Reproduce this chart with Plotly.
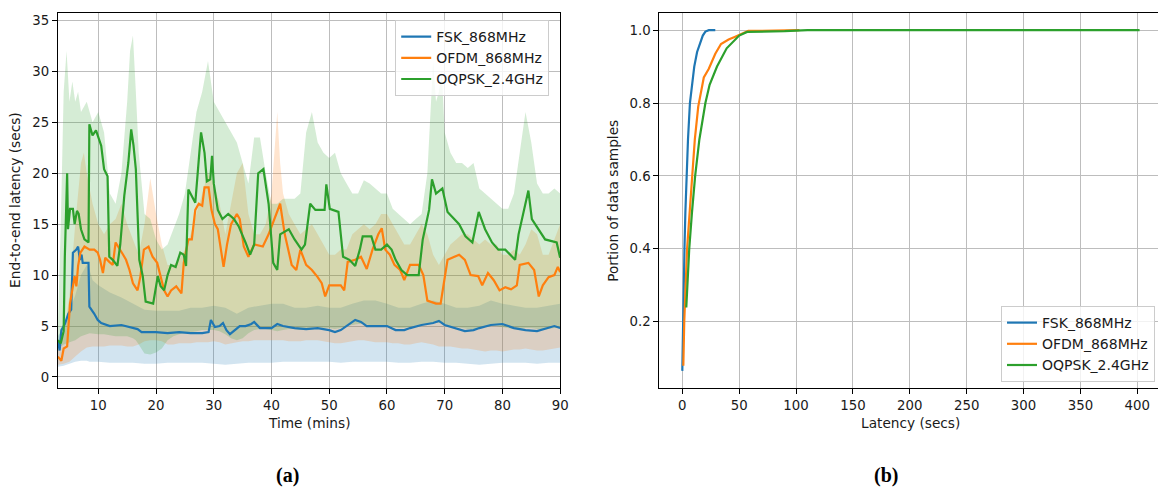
import plotly.graph_objects as go

# ---------------- Panel (a): end-to-end latency over time ----------------
fsk_t = [3, 3.3, 3.6, 4.2, 4.8, 5.3, 5.6, 6.2, 6.5, 6.8, 7.1, 7.3, 8.3, 8.45, 9.3,
         9.9, 10.5, 12, 14, 15.5, 16.8, 17.5, 20, 22, 24, 26, 28, 29.1, 29.5, 30.2,
         31, 31.6, 32.2, 32.8, 33.5, 34.5, 35.5, 36.5, 37, 38, 40, 41, 42, 44, 46,
         48, 50, 51, 52, 53.5, 54.5, 55.5, 56.5, 58, 60, 61.5, 63, 64, 66, 68,
         69, 70, 72, 73.5, 75, 76, 78, 80, 82, 84, 86, 88, 89, 90]
fsk_mean = [3.6, 2.6, 4.6, 5.2, 6.2, 6.6, 12.2, 12.5, 12.8, 11.5, 12, 11.2, 11.2, 6.9, 6.2,
            5.6, 5.3, 5, 5.1, 4.9, 4.7, 4.4, 4.4, 4.3, 4.4, 4.3, 4.3, 4.4, 5.6, 4.9,
            5, 5.3, 4.6, 4.2, 4.5, 5, 5, 5.2, 5.4, 4.8, 4.8, 5.2, 5, 4.8, 4.7,
            4.8, 4.6, 4.4, 4.6, 5.2, 5.6, 5.4, 5, 5, 5, 4.6, 4.6, 4.8, 5.1, 5.3,
            5.5, 5.1, 4.8, 4.5, 4.6, 4.8, 5.1, 5.2, 4.8, 4.6, 4.5, 4.8, 5, 4.8]

ofdm_t = [3, 3.6, 4, 4.6, 5.1, 5.5, 5.9, 6.2, 6.5, 6.9, 7.6, 8.5, 9.3, 9.9, 10.3,
          10.8, 11.2, 11.9, 12.5, 13, 13.6, 14.3, 14.8, 15.4, 16, 16.8, 17.3, 17.9, 18.7, 19.4,
          20.2, 20.8, 21.4, 22, 22.6, 23.5, 24.4, 24.8, 25.6, 26.2, 26.8, 27.4, 28, 28.4, 29.1,
          29.6, 30.2, 30.7, 31.3, 31.7, 32.3, 33, 34, 34.5, 35.2, 36, 37, 38.5, 39.5, 40.5,
          41.5, 42.3, 43.5, 44.3, 45, 46, 47, 48, 48.7, 49.3, 50, 52, 52.6, 53.2, 54.5,
          55.5, 56.5, 57.5, 58.5, 59.1, 59.7, 60.5, 61.3, 62.3, 63, 64, 65.5, 66.3, 67, 68.5,
          69.3, 69.8, 70.5, 72.5, 73.5, 74.5, 75.8, 76.5, 77.5, 78.5, 79.5, 80.5, 81.5, 82.5, 83,
          84.5, 85.5, 86.3, 87, 88, 89, 89.6, 90]
ofdm_mean = [2, 1.6, 2.8, 3, 7.2, 8.5, 9.9, 8.9, 10.9, 12.2, 12.8, 12.5, 12.5, 12.2, 11.5,
             10.2, 11.7, 11.3, 11, 13.2, 12.7, 12, 11.5, 10.5, 9.2, 8.5, 9.9, 12.5, 12.8, 11.8,
             11.2, 9.9, 8.5, 7.9, 8.5, 8.9, 8.2, 11.2, 13.5, 13.5, 16.4, 17, 16.8, 18.6, 18.6,
             16.4, 15, 14.5, 12, 10.8, 13, 15, 16, 15.5, 12.8, 11.8, 13, 12.8, 14, 15.5,
             17, 14, 11, 10.5, 12.5, 11, 10.5, 9.8, 9.2, 7.9, 9, 9, 8.5, 11.3, 11.5,
             11.8, 10.6, 12.5, 14, 14.6, 12.5, 12, 11, 10.5, 9.5, 11, 11, 10, 7.5, 7.2,
             7.2, 9, 11.5, 12, 11.5, 10, 9.9, 9, 10.2, 9.5, 8.5, 8.8, 8.6, 9, 11,
             11.2, 10.5, 7.9, 9, 9.8, 10, 10.8, 10.3]

oqpsk_t = [3, 3.5, 4, 4.2, 4.6, 4.75, 5.1, 5.6, 5.9, 6.3, 6.6, 7, 7.6, 8.3, 8.45,
           9, 9.6, 10.5, 11, 11.6, 11.9, 12.5, 13.3, 13.8, 14.5, 15.2, 15.7, 16.1, 16.5, 17.1,
           17.7, 18.2, 19.5, 20.3, 20.8, 21.4, 22, 22.6, 23.4, 24.2, 24.8, 25.2, 25.6, 26.2, 26.8,
           27.5, 27.8, 28.4, 28.8, 29.4, 29.7, 30, 30.7, 31.5, 32.5, 33.5, 34.3, 35.5, 36.3, 37,
           37.7, 38.6, 39.5, 40.3, 41, 41.5, 43, 44, 45.2, 45.8, 46.7, 47.6, 49.2, 49.5, 50.1,
           51.6, 52.4, 53.5, 54.5, 55.3, 55.8, 57.3, 58, 59, 60, 60.8, 61.5, 62.5, 63.5, 65.5,
           66.2, 67.3, 67.8, 68.5, 69.6, 70.5, 72.5, 73.6, 74.8, 75.9, 77, 78.2, 79.3, 80.5, 81.6,
           82.2, 82.8, 83.8, 84.5, 85.1, 86.3, 87.4, 89.4, 90]
oqpsk_mean = [3.6, 3.3, 4.5, 11.8, 20, 14.5, 16.5, 16.5, 15, 16.3, 16, 14.5, 13.5, 13.2, 24.8,
              23.7, 24.2, 22.7, 20.4, 19.7, 11.8, 11.5, 10.9, 13, 17.8, 21, 24.3, 22.7, 20.4, 11.5,
              9.9, 7.4, 7.2, 9.9, 8.9, 8.5, 10, 11, 10.8, 12.2, 12, 10.9, 18.4, 17.8, 17.1,
              22, 24, 22, 19.2, 19.4, 21.7, 19, 16.4, 15.5, 16, 15.5, 14.8, 13.2, 12, 13,
              20, 20.4, 17, 11.2, 10.5, 14, 14.5, 13.5, 12.5, 13, 17, 16.4, 16.4, 18.9, 16.5,
              16.2, 11.8, 11.5, 10.9, 12.5, 13.8, 13.8, 12.5, 12.5, 13, 12.5, 11.5, 10.5, 10, 10,
              13.5, 16.4, 19.4, 18, 18.5, 16.2, 15, 13.8, 13.2, 16.2, 14.5, 13.2, 12.5, 12.5, 11.8,
              11.5, 14, 16.5, 18.3, 15.5, 14.5, 13.5, 13.2, 11.7]

# shaded spread bands (lower / upper edge)
fsk_band_t = [3, 4, 5, 6, 7, 8, 8.5, 9, 10,
              12, 14, 16, 18, 20, 22, 24, 26, 28, 30,
              32, 34, 36, 38, 40, 42, 44, 46, 48, 50,
              52, 54, 56, 58, 60, 62, 64, 66, 68, 70,
              72, 74, 76, 78, 80, 82, 84, 86, 88, 90]
fsk_lo = [1.0, 1.1, 1.3, 1.5, 1.6, 1.6, 1.5, 1.5, 1.5,
          1.4, 1.4, 1.4, 1.3, 1.3, 1.4, 1.4, 1.4, 1.4, 1.3,
          1.2, 1.3, 1.4, 1.4, 1.4, 1.5, 1.5, 1.5, 1.5, 1.5,
          1.4, 1.5, 1.5, 1.5, 1.5, 1.4, 1.4, 1.5, 1.5, 1.4,
          1.4, 1.3, 1.2, 1.3, 1.4, 1.4, 1.4, 1.3, 1.4, 1.4]
fsk_hi = [4.0, 5.0, 6.5, 8, 10, 11, 10.5, 9.5, 9,
          8.3, 7.8, 7.2, 6.6, 6.5, 6.5, 6.5, 6.8, 6.8, 7.0,
          6.8, 6.2, 6.8, 7, 7.2, 7.2, 6.8, 6.8, 7, 6.8,
          6.8, 7.2, 7.5, 7.5, 7.2, 6.8, 6.8, 7.2, 7.5, 7.2,
          6.8, 6.8, 7, 7.5, 7.2, 7, 6.8, 6.8, 7, 7.2]

ofdm_band_t = [3, 4, 5, 6, 7, 7.5, 8,
               9, 10, 11, 12, 13, 14, 15, 16, 17, 18,
               19, 20, 21, 22, 23, 24, 25, 26, 27, 28,
               29, 30, 31, 32, 33, 34, 35, 36, 37, 38,
               39, 40, 41, 41.5,
               42, 43, 44, 45, 46, 47, 48, 49, 50,
               51, 52, 53, 54, 55, 56, 57, 58, 59, 60,
               61, 62, 63, 64, 65, 66, 67, 68, 69, 70,
               71, 72, 73, 74, 75, 76, 77, 78, 79, 80,
               81, 82, 83, 84, 85, 86, 87, 88, 89, 90]
ofdm_lo = [1.2, 1.3, 1.5, 2.0, 2.5, 2.7, 2.9,
           3.0, 3.0, 3.0, 3.1, 3.1, 3.1, 3.0, 3.0, 3.2, 3.5,
           3.6, 3.6, 3.5, 3.2, 3.2, 3.3, 3.3, 3.3, 3.4, 3.4,
           3.4, 3.5, 3.4, 3.2, 3.3, 3.4, 3.5, 3.5, 3.6, 3.6,
           3.6, 3.6, 3.6, 3.6,
           3.6, 3.5, 3.5, 3.5, 3.6, 3.6, 3.6, 3.5, 3.4,
           3.3, 3.3, 3.4, 3.5, 3.6, 3.6, 3.5, 3.4, 3.4, 3.4,
           3.3, 3.3, 3.2, 3.2, 3.3, 3.4, 3.3, 3.2, 3.0, 3.0,
           3.0, 2.9, 2.8, 2.8, 2.7, 2.6, 2.5, 2.6, 2.6, 2.5,
           2.6, 2.7, 2.7, 2.8, 2.7, 2.6, 2.6, 2.7, 2.8, 2.9]
ofdm_hi = [3, 4, 8, 15, 21, 22, 20,
           17, 15, 14, 15, 15.5, 17, 15, 13.5, 12, 15,
           19.5, 16, 13, 11, 11, 11.5, 12.5, 14, 16, 18,
           20, 19, 17, 14, 17, 20, 21, 16, 14, 14,
           15, 18, 26, 21,
           18, 16, 15, 14, 14.5, 15, 14, 13, 12,
           12, 12.5, 12.5, 14, 14.5, 15, 14.5, 15, 16, 16,
           15, 14, 13, 13, 14, 15, 14, 12, 11, 12,
           13, 13.5, 14, 14, 13.5, 13, 13.5, 13, 13, 12,
           12, 12.5, 12, 13, 14.5, 14, 12, 12, 13.5, 15]

oqpsk_band_t = [3, 3.5, 4, 4.5, 5, 5.5, 6, 6.5, 7,
                8, 8.5, 9,
                10, 11, 12, 13, 14, 15,
                15.5, 16, 16.5,
                17, 18, 19, 20, 21, 22, 23, 24, 25, 26,
                27, 28, 29, 30, 31, 32, 33, 34, 35, 36,
                37, 38, 39, 40, 41, 42, 43, 44, 45, 46,
                47, 48, 49, 50, 51, 52, 53, 54, 55, 56,
                57, 58, 59, 60, 61, 62, 63, 64, 65, 66,
                67, 68,
                68.5, 69, 69.5,
                70, 71, 72, 73, 74, 75, 76, 77, 78, 79,
                80, 81, 82, 83, 84, 85, 86, 87, 88, 89,
                90]
oqpsk_lo = [2.8, 3, 3.2, 3.3, 3.4, 3.5, 3.6, 3.8, 4,
            4.2, 4.3, 4.3,
            4.2, 4.2, 4.1, 4.0, 4.0, 4.0,
            3.9, 3.8, 3.6,
            3.2, 2.3, 2.2, 2.4, 2.8, 3.6, 4, 4.2, 4.3, 4.4,
            4.5, 4.6, 4.6, 4.6, 4.5, 4.2, 3.8, 3.6, 3.8, 4.3,
            4.6, 4.7, 4.7, 4.6, 4.5, 4.6, 4.7, 4.7, 4.6, 4.7,
            4.8, 4.9, 4.8, 4.8, 4.7, 4.8, 5.0, 5.1, 5.2, 5.2,
            5.1, 5.0, 5.0, 5.0, 4.9, 4.8, 4.8, 4.9, 5.0, 5.1,
            5.2, 5.3,
            5.3, 5.3, 5.3,
            5.2, 5.0, 4.9, 4.8, 4.7, 4.7, 4.8, 4.9, 5.0, 5.0,
            4.9, 4.8, 4.7, 4.7, 4.8, 4.8, 4.7, 4.6, 4.7, 4.8,
            4.8]
oqpsk_hi = [5, 15, 28, 32, 27, 29, 27, 28, 26,
            27, 26, 25,
            26, 24, 18, 17, 20, 27,
            32, 33.5, 28,
            22, 16, 15.5, 13.5, 12.5, 13, 14.5, 16, 18, 22,
            26, 28, 31, 27, 26, 25, 24, 23, 21, 19,
            23.5, 23.5, 20, 17, 17, 17.5, 17.5, 17.5, 18, 24,
            26, 23, 22, 21.5, 22, 20, 19, 18, 18, 19.3,
            19, 18.5, 18, 18, 16.5, 16, 15.5, 15, 15.5, 16,
            20, 31,
            27, 28, 30,
            24, 22, 21, 21, 20.5, 21, 18.5, 18, 17.5, 17,
            16.5, 16.5, 18, 22, 26, 23, 19, 18, 18, 18.5,
            18]

# ---------------- Panel (b): CDF of latency ----------------
fsk_lat = [0, 0.5, 1.9, 2.7, 3.8, 5, 6.7, 8.5, 10.5, 13, 16, 18, 20.3, 23.3, 29]
fsk_cdf = [0.065, 0.2, 0.4, 0.5, 0.6, 0.7, 0.8, 0.85, 0.9, 0.94, 0.966, 0.985, 0.996, 1.0, 1.0]
ofdm_lat = [0.9, 1.7, 4.2, 6.5, 8.3, 11, 14, 18.9, 23.3, 29, 34, 40.7, 46.5, 52, 58, 70, 85, 103]
ofdm_cdf = [0.079, 0.2, 0.4, 0.5, 0.6, 0.7, 0.79, 0.87, 0.894, 0.935, 0.962, 0.974, 0.982, 0.99,
            0.998, 0.998, 0.999, 1.0]
oqpsk_lat = [3.5, 4.5, 6.1, 8.5, 11.3, 15, 20.3, 24, 30.5, 39, 50, 57, 70, 90, 110, 402]
oqpsk_cdf = [0.239, 0.3, 0.4, 0.5, 0.6, 0.7, 0.8, 0.85, 0.9, 0.95, 0.985, 0.995, 0.995, 0.997,
             1.0, 1.0]

names = ["FSK_868MHz", "OFDM_868MHz", "OQPSK_2.4GHz"]
colors = ["#1f77b4", "#ff7f0e", "#2ca02c"]
fills = ["rgba(31,119,180,0.2)", "rgba(255,127,14,0.2)", "rgba(44,160,44,0.2)"]

fig = go.Figure()

bands = [(fsk_band_t, fsk_lo, fsk_hi), (ofdm_band_t, ofdm_lo, ofdm_hi),
         (oqpsk_band_t, oqpsk_lo, oqpsk_hi)]
for (bt, lo, hi), fc in zip(bands, fills):
    fig.add_trace(go.Scatter(
        x=list(bt) + list(bt)[::-1], y=list(hi) + list(lo)[::-1],
        fill="toself", fillcolor=fc, line=dict(width=0), mode="lines",
        showlegend=False, hoverinfo="skip", xaxis="x", yaxis="y"))

means = [(fsk_t, fsk_mean), (ofdm_t, ofdm_mean), (oqpsk_t, oqpsk_mean)]
for (t, m), n, c in zip(means, names, colors):
    fig.add_trace(go.Scatter(x=t, y=m, mode="lines", name=n,
                             line=dict(color=c, width=2.2),
                             xaxis="x", yaxis="y", legend="legend"))

cdfs = [(fsk_lat, fsk_cdf), (ofdm_lat, ofdm_cdf), (oqpsk_lat, oqpsk_cdf)]
for (lx, ly), n, c in zip(cdfs, names, colors):
    fig.add_trace(go.Scatter(x=lx, y=ly, mode="lines", name=n,
                             line=dict(color=c, width=2.2),
                             xaxis="x2", yaxis="y2", legend="legend2"))

W, H = 1166, 489
top, bottom = 13, 388
font_main = "DejaVu Sans"
txt = "#1a1a1a"

axis_common = dict(showline=True, linecolor="black", linewidth=1.1,
                   ticks="outside", ticklen=5, tickwidth=1, tickcolor="black",
                   showgrid=True, gridcolor="#bdbdbd", gridwidth=1.2,
                   zeroline=False, tickfont=dict(size=13.3, family=font_main, color=txt))

legend_common = dict(bgcolor="rgba(255,255,255,0.8)", bordercolor="#cccccc", borderwidth=1,
                     font=dict(size=14, family=font_main, color=txt))

def py(p):
    return (bottom - p) / (bottom - top)

fig.update_layout(
    width=W, height=H, autosize=False,
    margin=dict(l=0, r=0, t=top, b=H - bottom, pad=0),
    paper_bgcolor="white", plot_bgcolor="white",
    font=dict(family=font_main, size=13, color=txt),
    xaxis=dict(domain=[58.3 / W, 564 / W], range=[3, 90],
               tickvals=[10, 20, 30, 40, 50, 60, 70, 80, 90], mirror=True, **axis_common),
    yaxis=dict(range=[-1.08, 35.72], tickvals=[0, 5, 10, 15, 20, 25, 30, 35],
               mirror=True, **axis_common),
    xaxis2=dict(domain=[664 / W, 1.0], range=[-20.1, 418.2], anchor="y2",
                tickvals=[0, 50, 100, 150, 200, 250, 300, 350, 400], mirror=True, **axis_common),
    yaxis2=dict(range=[0.018, 1.047], anchor="x2", tickvals=[0.2, 0.4, 0.6, 0.8, 1.0],
                tickformat=".1f", mirror=False, **axis_common),
    legend=dict(x=553 / W, xanchor="right", y=py(20), yanchor="top", **legend_common),
    legend2=dict(x=1163 / W, xanchor="right", y=py(382), yanchor="bottom", **legend_common),
    annotations=[
        dict(text="Time (mins)", x=311 / W, y=py(423), xref="paper", yref="paper",
             showarrow=False, xanchor="center", yanchor="middle", font=dict(size=13.7)),
        dict(text="End-to-end latency (secs)", x=15 / W, y=py(200), xref="paper", yref="paper",
             showarrow=False, textangle=-90, xanchor="center", yanchor="middle",
             font=dict(size=13.7)),
        dict(text="Latency (secs)", x=917 / W, y=py(423), xref="paper", yref="paper",
             showarrow=False, xanchor="center", yanchor="middle", font=dict(size=13.7)),
        dict(text="Portion of data samples", x=617 / W, y=py(201), xref="paper", yref="paper",
             showarrow=False, textangle=-90, xanchor="center", yanchor="middle",
             font=dict(size=13.7)),
        dict(text="<b>(a)</b>", x=289 / W, y=py(475), xref="paper", yref="paper",
             showarrow=False, xanchor="center", yanchor="middle",
             font=dict(size=20, family="Liberation Serif", color="black")),
        dict(text="<b>(b)</b>", x=892 / W, y=py(476), xref="paper", yref="paper",
             showarrow=False, xanchor="center", yanchor="middle",
             font=dict(size=20, family="Liberation Serif", color="black")),
    ],
)

fig.write_html("out.html", config={"displayModeBar": False},
               post_script="document.body.style.margin='0px';document.body.style.padding='0px';")
